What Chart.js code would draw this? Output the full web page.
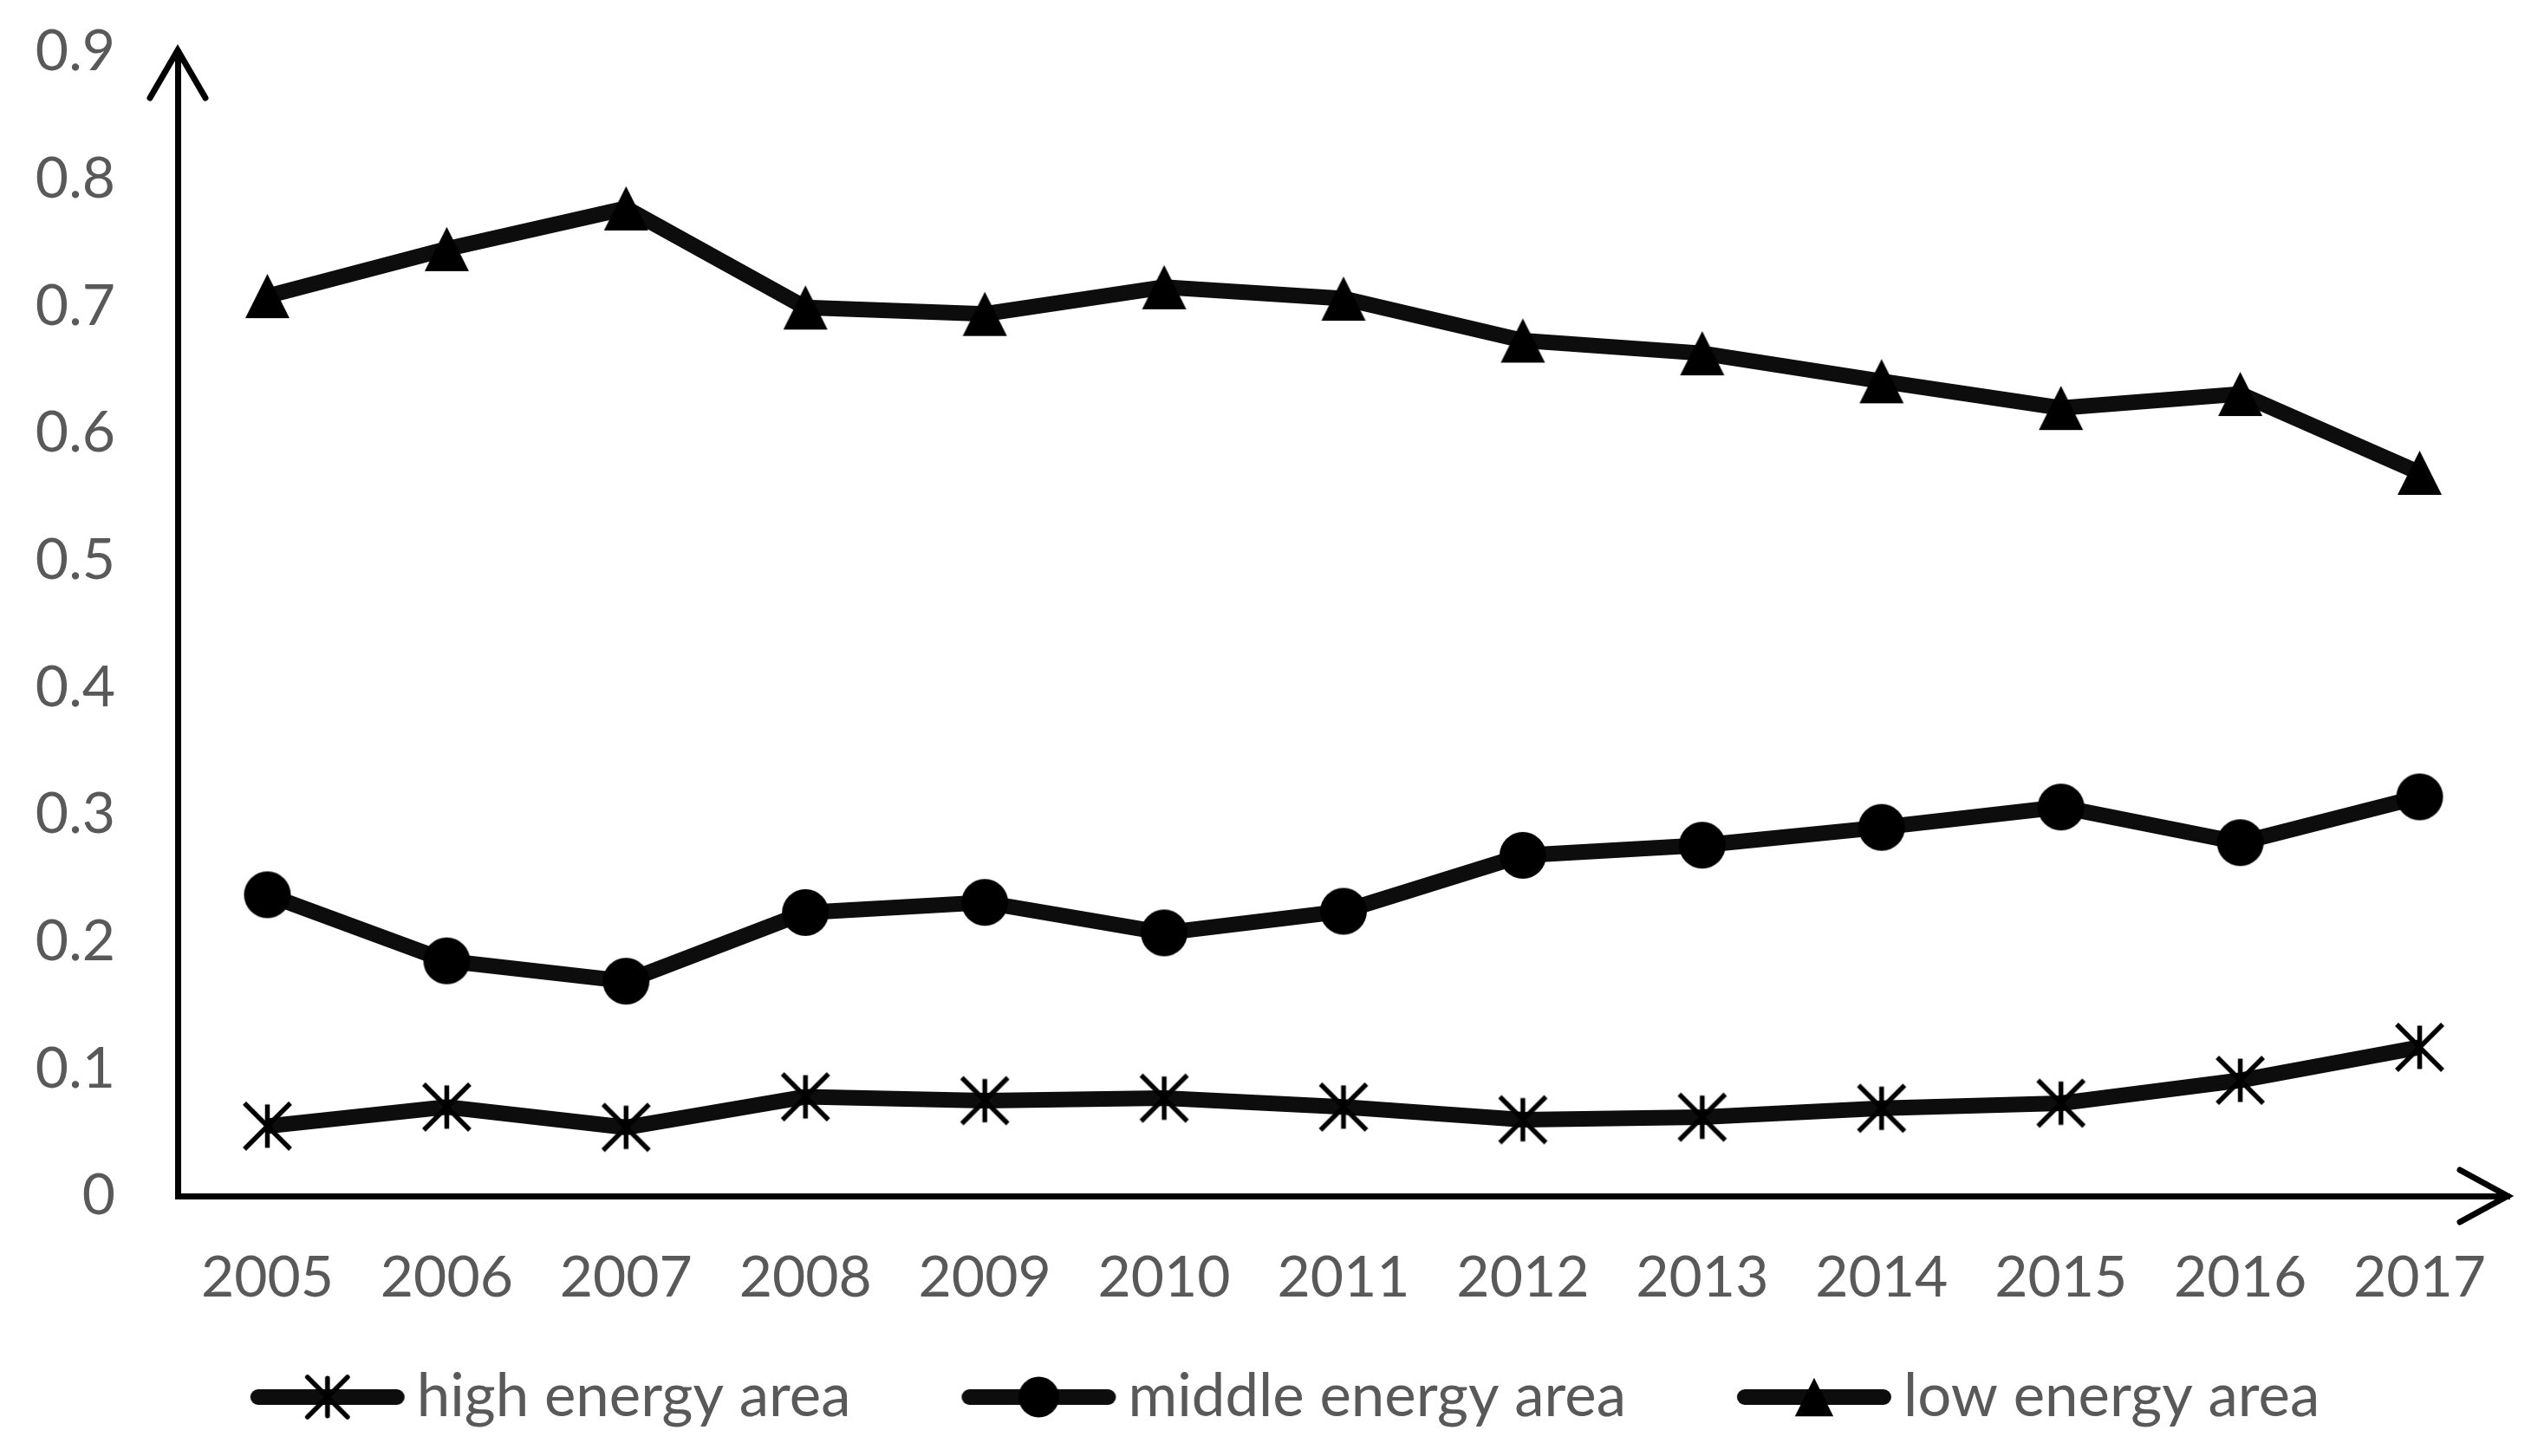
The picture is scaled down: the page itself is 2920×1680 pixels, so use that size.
<!DOCTYPE html>
<html>
<head>
<meta charset="utf-8">
<script src="https://cdn.jsdelivr.net/npm/chart.js@4.4.0/dist/chart.umd.min.js"></script>
<style>
  html, body { margin: 0; padding: 0; background: #fff; }
  #wrap { width: 2920px; height: 1680px; }
</style>
</head>
<body>
<div id="wrap"><canvas id="energyChart"></canvas></div>
<script>
// labels along the x-axis
var years = ['2005', '2006', '2007', '2008', '2009', '2010', '2011', '2012', '2013', '2014', '2015', '2016', '2017'];
// y-axis ticks
var yTickValues = [0, 0.1, 0.2, 0.3, 0.4, 0.5, 0.6, 0.7, 0.8, 0.9];
var yTickLabels = ['0', '0.1', '0.2', '0.3', '0.4', '0.5', '0.6', '0.7', '0.8', '0.9'];
// series values
var highEnergy = [0.055, 0.070, 0.054, 0.078, 0.075, 0.077, 0.070, 0.060, 0.062, 0.069, 0.073, 0.091, 0.117];
var middleEnergy = [0.237, 0.185, 0.169, 0.223, 0.231, 0.207, 0.224, 0.268, 0.276, 0.290, 0.306, 0.278, 0.314];
var lowEnergy = [0.708, 0.745, 0.777, 0.699, 0.694, 0.715, 0.706, 0.673, 0.663, 0.641, 0.620, 0.631, 0.569];

var labelFont = { family: 'Lato', size: 66 };
var legendFont = { family: 'Lato', size: 69 };
var labelColor = '#595959';
var lineColor = '#0d0d0d';

// marker shapes drawn on small canvases (used as pointStyle images)
function star(ctx, cx, cy, s) {
  var h = s / 2;
  ctx.strokeStyle = '#000';
  ctx.lineWidth = 5.5;
  ctx.beginPath();
  ctx.moveTo(cx, cy - h * 0.94); ctx.lineTo(cx, cy + h * 0.94);
  ctx.moveTo(cx - h, cy - h); ctx.lineTo(cx + h, cy + h);
  ctx.moveTo(cx + h, cy - h); ctx.lineTo(cx - h, cy + h);
  ctx.stroke();
}
function dot(ctx, cx, cy, s) {
  ctx.fillStyle = '#000';
  ctx.beginPath();
  ctx.arc(cx, cy, s / 2, 0, Math.PI * 2);
  ctx.fill();
}
function triangle(ctx, cx, cy, s) {
  ctx.fillStyle = '#000';
  ctx.beginPath();
  ctx.moveTo(cx, cy - s / 2);
  ctx.lineTo(cx + s / 2, cy + s / 2);
  ctx.lineTo(cx - s / 2, cy + s / 2);
  ctx.closePath();
  ctx.fill();
}

function markerImage(shape, s) {
  var c = document.createElement('canvas');
  var size = Math.ceil(s + 8);
  c.width = size; c.height = size;
  shape(c.getContext('2d'), size / 2, size / 2, s);
  return c;
}
function legendImage(shape, s) {
  var c = document.createElement('canvas');
  c.width = 180; c.height = 60;
  var ctx = c.getContext('2d');
  ctx.strokeStyle = lineColor;
  ctx.lineWidth = 18;
  ctx.lineCap = 'round';
  ctx.beginPath();
  ctx.moveTo(10, 30); ctx.lineTo(170, 30);
  ctx.stroke();
  shape(ctx, 90, 30, s);
  return c;
}

var shapes = [star, dot, triangle];
var markerSizes = [53, 54, 51];
var pointImages = shapes.map(function (f, i) { return markerImage(f, markerSizes[i]); });
var legendIcons = shapes.map(function (f, i) { return legendImage(f, markerSizes[i] * 0.87); });

// open arrow heads at the ends of both axes
var axisArrows = {
  id: 'axisArrows',
  afterDraw: function (chart) {
    var a = chart.chartArea, ctx = chart.ctx;
    ctx.save();
    ctx.strokeStyle = '#000';
    ctx.lineWidth = 7;
    ctx.lineCap = 'round';
    ctx.beginPath();
    ctx.moveTo(a.left - 32, a.top + 53); ctx.lineTo(a.left, a.top - 2); ctx.lineTo(a.left + 32, a.top + 53);
    ctx.moveTo(a.right - 57, a.bottom - 30); ctx.lineTo(a.right - 2, a.bottom); ctx.lineTo(a.right - 57, a.bottom + 30);
    ctx.stroke();
    ctx.restore();
  }
};

// legend row under the axis: line + marker, then the series name
var bottomLegend = {
  id: 'bottomLegend',
  afterDraw: function (chart) {
    var ctx = chart.ctx;
    var items = chart.data.datasets.map(function (ds, i) { return { text: ds.label, icon: legendIcons[i] }; });
    ctx.save();
    ctx.font = legendFont.size + 'px ' + legendFont.family;
    ctx.fillStyle = labelColor;
    ctx.textBaseline = 'middle';
    var iconW = 180, textGap = 13, itemGap = 127;
    var total = 0;
    items.forEach(function (it, i) {
      it.w = ctx.measureText(it.text).width;
      total += iconW + textGap + it.w + (i ? itemGap : 0);
    });
    var x = 1482 - total / 2, y = 1612;
    items.forEach(function (it) {
      ctx.drawImage(it.icon, x, y - it.icon.height / 2);
      x += iconW + textGap;
      ctx.fillText(it.text, x, y);
      x += it.w + itemGap;
    });
    ctx.restore();
  }
};

function series(label, data, i) {
  return {
    label: label,
    data: data,
    borderColor: lineColor,
    borderWidth: 18,
    fill: false,
    tension: 0,
    pointStyle: pointImages[i],
    pointRadius: 27,
    pointHoverRadius: 27
  };
}

var ctx = document.getElementById('energyChart');
var energyChart = new Chart(ctx, {
  type: 'line',
  data: {
    labels: years,
    datasets: [
      series('high energy area', highEnergy, 0),
      series('middle energy area', middleEnergy, 1),
      series('low energy area', lowEnergy, 2)
    ]
  },
  options: {
    responsive: true,
    maintainAspectRatio: false,
    animation: false,
    devicePixelRatio: 1,
    layout: { autoPadding: false, padding: { left: 0, right: 25, top: 60, bottom: 0 } },
    plugins: {
      tooltip: { enabled: false },
      legend: { display: false }
    },
    scales: {
      x: {
        offset: true,
        grid: { display: false, drawTicks: false },
        border: { display: true, color: '#000', width: 7 },
        ticks: { color: labelColor, font: labelFont, padding: 55, maxRotation: 0, autoSkip: false },
        afterFit: function (s) { s.height = 300; s.paddingLeft = 0; s.paddingRight = 0; }
      },
      y: {
        min: 0,
        max: 0.9,
        grid: { display: false, drawTicks: false },
        border: { display: true, color: '#000', width: 7 },
        afterBuildTicks: function (s) {
          s.ticks = yTickValues.map(function (v) { return { value: v }; });
        },
        ticks: {
          color: labelColor,
          font: labelFont,
          padding: 72,
          callback: function (v, i) { return yTickLabels[i]; }
        },
        afterFit: function (s) { s.width = 205; s.paddingTop = 0; s.paddingBottom = 0; }
      }
    }
  },
  plugins: [axisArrows, bottomLegend]
});
</script>
</body>
</html>
